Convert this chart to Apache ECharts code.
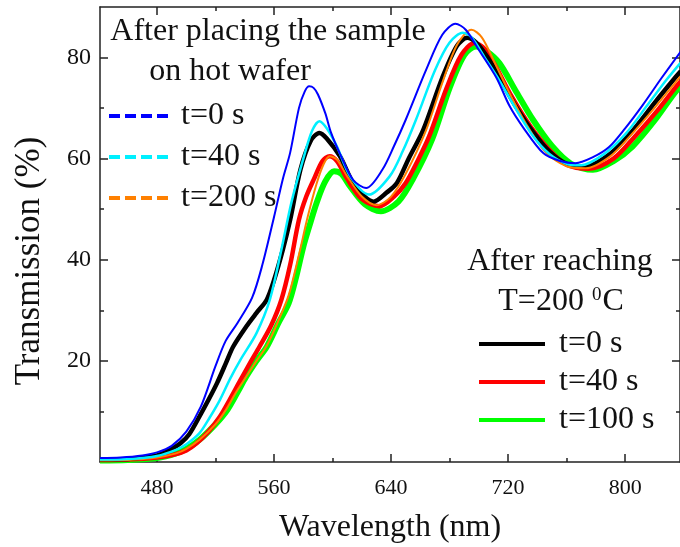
<!DOCTYPE html>
<html>
<head>
<meta charset="utf-8">
<script src="https://cdn.jsdelivr.net/npm/echarts@6/dist/echarts.min.js"></script>
<style>html,body{margin:0;padding:0;background:#fff}#c{width:680px;height:547px}</style>
</head>
<body>
<div id="c"></div>
<script>
// ---- data (wavelength nm, transmission %) ----
const placeBlue = [[441,0.8],[455,0.9],[470,1.3],[480,1.9],[490,3.2],[500,6.0],[510,11.0],[520,19.0],[527,24.0],[535,27.5],[545,32.5],[552,39.0],[560,48.5],[566,56.0],[571,61.2],[577,70.0],[581,73.3],[584,74.3],[587,74.0],[590,72.7],[595,69.0],[599,65.1],[605,61.0],[614,55.8],[623,54.2],[634,57.8],[642,62.5],[650,67.7],[664,77.6],[675,84.5],[684,86.7],[691,85.5],[700,81.5],[712,76.0],[721,70.4],[730,66.3],[744,61.1],[755,59.6],[766,59.1],[778,60.3],[789,62.3],[800,66.0],[812,70.6],[825,76.0],[838,81.2]];
const placeCyan = [[441,0.5],[460,0.6],[480,1.2],[493,2.4],[500,3.5],[509,5.7],[516,8.8],[523,12.3],[530,16.5],[537,20.2],[548,25.5],[557,32.0],[565,42.0],[572,51.5],[580,60.0],[586,65.5],[591,67.4],[596,66.0],[603,62.4],[612,56.5],[625,52.9],[639,56.5],[648,61.5],[657,67.7],[670,77.5],[680,83.0],[689,84.9],[695,84.0],[704,80.0],[714,75.5],[726,69.5],[737,64.5],[748,61.0],[760,59.0],[770,58.7],[785,60.8],[800,64.8],[815,70.5],[828,75.5],[838,79.0]];
const placeOrange = [[441,0.3],[460,0.4],[480,0.9],[493,1.7],[500,2.6],[509,4.4],[520,7.5],[527,10.3],[534,13.8],[541,16.9],[548,20.0],[555,23.0],[563,28.0],[570,33.0],[577,41.0],[583,48.5],[589,55.0],[594,59.0],[598,60.5],[603,59.8],[610,56.5],[620,52.5],[630,50.8],[640,52.5],[650,57.0],[664,65.7],[675,75.0],[685,82.5],[695,85.5],[702,84.0],[710,79.5],[720,73.5],[732,67.0],[745,61.5],[760,58.5],[773,58.1],[790,60.5],[805,65.0],[820,70.0],[835,75.3],[838,76.3]];
const reachBlack = [[441,0.5],[460,0.6],[480,1.3],[490,2.6],[496,3.7],[502,5.5],[509,9.0],[515,12.2],[521,15.6],[527,19.5],[532,22.8],[541,26.8],[548,29.5],[555,32.1],[560,36.0],[566,42.0],[571,47.9],[578,57.8],[585,63.5],[591,65.1],[596,64.0],[605,60.5],[615,54.8],[628,51.5],[637,53.3],[644,55.2],[652,60.0],[662,65.7],[675,76.0],[685,82.3],[692,83.9],[698,83.0],[706,80.0],[716,75.0],[726,70.0],[737,65.3],[748,61.5],[760,59.0],[773,58.5],[790,61.0],[805,65.5],[820,71.0],[835,76.3],[838,77.3]];
const reachRed = [[441,0.4],[460,0.5],[480,0.9],[491,1.4],[500,2.3],[507,3.7],[515,6.0],[523,9.0],[530,12.5],[537,16.2],[544,19.8],[550,22.8],[558,27.0],[565,32.1],[571,39.0],[577,47.9],[582,52.5],[587,55.8],[593,59.5],[598,60.5],[603,59.5],[610,56.0],[620,52.0],[632,50.6],[642,52.5],[650,55.2],[658,59.5],[666,64.4],[678,74.0],[688,80.5],[697,82.9],[703,82.0],[711,78.5],[722,72.5],[735,66.5],[748,61.8],[760,58.8],[775,58.0],[792,60.0],[807,64.5],[822,69.5],[835,74.3],[838,75.3]];
const reachGreen = [[441,0.3],[460,0.4],[480,0.8],[493,1.7],[500,2.6],[509,4.4],[520,7.5],[528,10.3],[535,13.8],[541,16.9],[548,20.0],[555,22.8],[563,27.5],[570,31.4],[575,36.5],[580,42.6],[585,47.5],[589,51.2],[595,55.5],[601,57.5],[606,57.0],[612,54.5],[622,51.0],[633,49.6],[645,51.5],[655,56.0],[668,63.8],[680,74.0],[690,80.5],[698,82.2],[705,81.3],[714,78.9],[725,73.5],[737,67.7],[750,62.5],[763,59.0],[778,57.8],[792,59.5],[805,62.4],[820,67.5],[832,72.3],[838,74.5]];

const xMajor = [480, 560, 640, 720, 800];
const xMinor = [520, 600, 680, 760];
const yMajor = [20, 40, 60, 80];
const yMinor = [10, 30, 50, 70];

const placeNames = ['t=0 s', 't=40 s', 't=200 s'];
const reachNames = ['t=0 s', 't=40 s', 't=100 s'];

// ---- chart ----
const FONT = "'Liberation Serif','Times New Roman',serif";
const AX = '#222';
const chart = echarts.init(document.getElementById('c'), null, {renderer: 'canvas'});

function xAx(pos, ticks, len, line, labels) {
  return {
    type: 'value', position: pos, min: 441, max: 837.5,
    axisLine: {show: line, onZero: false, lineStyle: {color: AX, width: 1.5}},
    axisTick: {show: true, inside: true, length: len, customValues: ticks, lineStyle: {color: AX, width: 1.5}},
    axisLabel: labels ? {show: true, customValues: ticks, fontFamily: FONT, fontSize: 22, color: '#111', margin: 15} : {show: false},
    splitLine: {show: false}
  };
}
function yAx(pos, ticks, len, line, labels) {
  return {
    type: 'value', position: pos, min: 0, max: 90,
    axisLine: {show: line, onZero: false, lineStyle: {color: AX, width: 1.5}},
    axisTick: {show: true, inside: true, length: len, customValues: ticks, lineStyle: {color: AX, width: 1.5}},
    axisLabel: labels ? {show: true, customValues: ticks, fontFamily: FONT, fontSize: 24, color: '#111', margin: 9} : {show: false},
    splitLine: {show: false}
  };
}

function ser(name, data, color, width) {
  return {
    name: name, type: 'line', data: data, xAxisIndex: 0, yAxisIndex: 0,
    symbol: 'none', showSymbol: false, smooth: 0.3, clip: true,
    lineStyle: {color: color, width: width}, itemStyle: {color: color},
    animation: false
  };
}

const legendText = {fontFamily: FONT, fontSize: 32, color: '#111', lineHeight: 30};
const noSym = {color: 'rgba(0,0,0,0)', borderWidth: 0, opacity: 0};

chart.setOption({
  animation: false,
  grid: {left: 100, top: 7, width: 581, height: 455, containLabel: false},
  xAxis: [xAx('bottom', xMajor, 8, true, true), xAx('bottom', xMinor, 4, false, false),
          xAx('top', xMajor, 8, true, false), xAx('top', xMinor, 4, false, false)],
  yAxis: [yAx('left', yMajor, 8, true, true), yAx('left', yMinor, 4, false, false),
          yAx('right', yMajor, 8, true, false), yAx('right', yMinor, 4, false, false)],
  legend: [
    {
      orient: 'vertical', left: 107, top: 100, padding: 0, itemWidth: 61, itemHeight: 30, itemGap: 9,
      formatter: n => n.slice(2),
      textStyle: Object.assign({padding: [0, 0, 0, 6]}, legendText),
      data: [
        {name: 'A|' + placeNames[0], itemStyle: noSym, lineStyle: {color: '#0000ff', width: 4, type: [11, 5]}},
        {name: 'A|' + placeNames[1], itemStyle: noSym, lineStyle: {color: '#00f0ff', width: 4, type: [11, 5]}},
        {name: 'A|' + placeNames[2], itemStyle: noSym, lineStyle: {color: '#ff8000', width: 4, type: [11, 5]}}
      ],
      selectedMode: false
    },
    {
      orient: 'vertical', left: 477, top: 328, padding: 0, itemWidth: 66, itemHeight: 30, itemGap: 6,
      formatter: n => n.slice(2),
      textStyle: Object.assign({padding: [0, 0, 0, 9]}, legendText),
      data: [
        {name: 'B|' + reachNames[0], itemStyle: noSym, lineStyle: {color: '#000000', width: 4, type: 'solid'}},
        {name: 'B|' + reachNames[1], itemStyle: noSym, lineStyle: {color: '#ff0000', width: 4, type: 'solid'}},
        {name: 'B|' + reachNames[2], itemStyle: noSym, lineStyle: {color: '#00ff00', width: 4, type: 'solid'}}
      ],
      selectedMode: false
    }
  ],
  series: [
    ser('B|' + reachNames[2], reachGreen, '#00ff00', 6),
    ser('B|' + reachNames[1], reachRed, '#ff0000', 4.5),
    ser('B|' + reachNames[0], reachBlack, '#000000', 4.5),
    ser('A|' + placeNames[2], placeOrange, '#ff8000', 2),
    ser('A|' + placeNames[1], placeCyan, '#00f0ff', 2.5),
    ser('A|' + placeNames[0], placeBlue, '#0000ff', 2)
  ],
  graphic: [
    {type: 'text', x: 268, y: 32, style: {text: 'After placing the sample', font: "32px " + FONT, fill: '#111', align: 'center', verticalAlign: 'middle', textAlign: 'center', textVerticalAlign: 'middle'}},
    {type: 'text', x: 230, y: 72, style: {text: 'on hot wafer', font: "32px " + FONT, fill: '#111', align: 'center', verticalAlign: 'middle', textAlign: 'center', textVerticalAlign: 'middle'}},
    {type: 'text', x: 560, y: 262, style: {text: 'After reaching', font: "32px " + FONT, fill: '#111', align: 'center', verticalAlign: 'middle', textAlign: 'center', textVerticalAlign: 'middle'}},
    {type: 'text', x: 561, y: 302, style: {text: 'T=200 {sup|0}C', font: "32px " + FONT, fill: '#111', align: 'center', verticalAlign: 'middle', textAlign: 'center', textVerticalAlign: 'middle',
      rich: {sup: {fontSize: 19, fontFamily: FONT, fill: '#111', verticalAlign: 'top', lineHeight: 30, padding: [0, 1, 12, 0]}}}},
    {type: 'text', x: 390, y: 528, style: {text: 'Wavelength (nm)', font: "32px " + FONT, fill: '#111', align: 'center', verticalAlign: 'middle', textAlign: 'center', textVerticalAlign: 'middle'}},
    {type: 'text', x: 30, y: 261, rotation: Math.PI / 2, style: {text: 'Transmission (%)', font: "35px " + FONT, fill: '#111', align: 'center', verticalAlign: 'middle', textAlign: 'center', textVerticalAlign: 'middle'}}
  ]
});
</script>
</body>
</html>
